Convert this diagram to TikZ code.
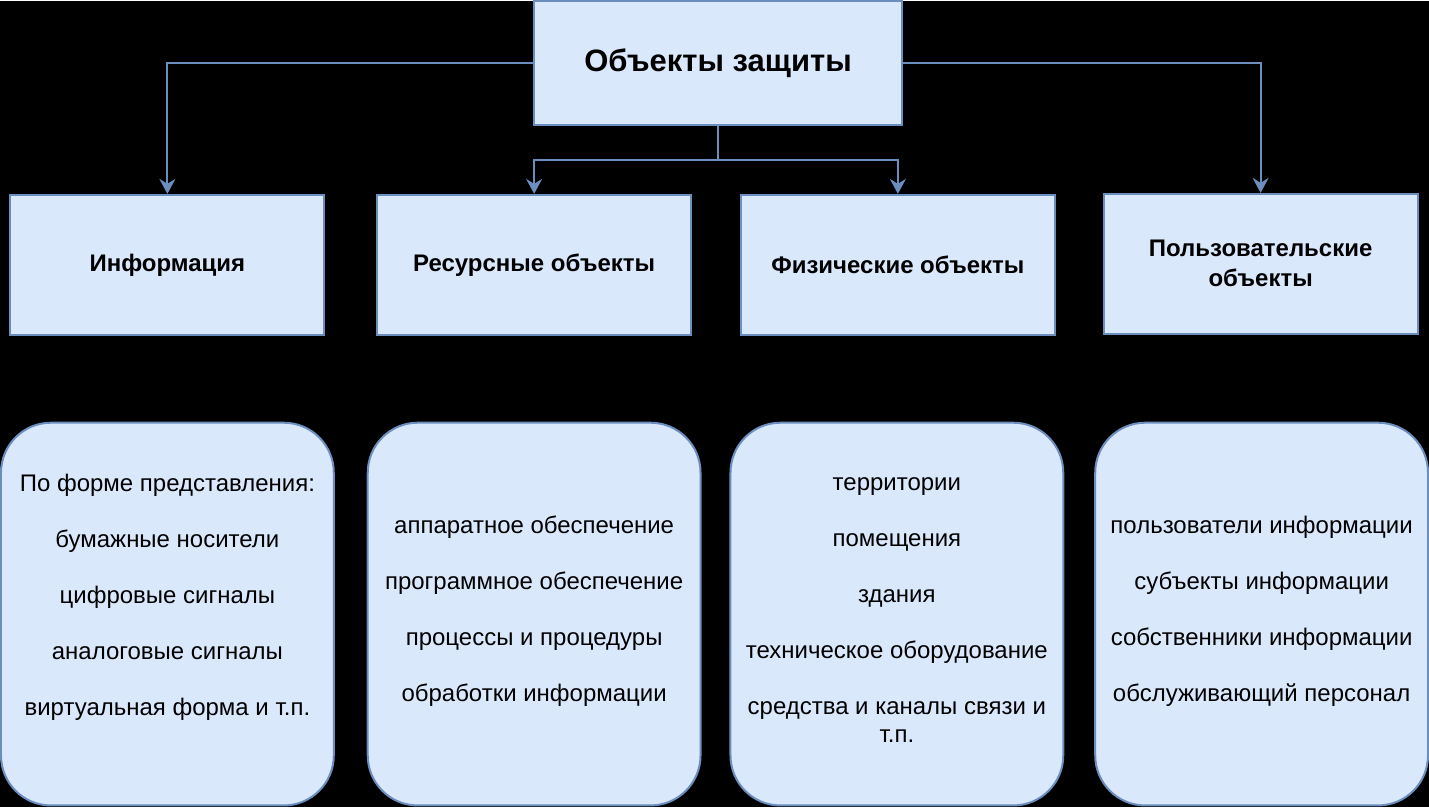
\documentclass[tikz,border=0pt]{standalone}
\usepackage{fontspec}
\setmainfont{Liberation Sans}
\usetikzlibrary{arrows.meta}

\definecolor{boxfill}{HTML}{DAE8FC}
\definecolor{boxline}{HTML}{6C8EBF}

\tikzset{
    head/.style={draw=boxline, fill=boxfill, line width=2pt,
        minimum width=368pt, minimum height=124pt, font=\bfseries\fontsize{31}{36}\selectfont},
    kind/.style={draw=boxline, fill=boxfill, line width=2pt, align=center,
        minimum width=314pt, minimum height=140pt, font=\bfseries\fontsize{24}{30}\selectfont},
    card/.style={draw=boxline, fill=boxfill, line width=2pt, rounded corners=50pt,
        minimum width=333pt, minimum height=383pt},
    cardtext/.style={align=center, font=\fontsize{24}{28}\selectfont},
    link/.style={draw=boxline, line width=2pt,
        -{Stealth[length=15pt, width=16pt, inset=5pt]}},
}

\begin{document}
\begin{tikzpicture}[x=1pt, y=-1pt]
        \fill[black] (0,0) rectangle (1429,807);

        \node[head] (root) at (718, 62) {Объекты защиты};

        \node[kind] (info) at (167, 264) {Информация};
        \node[kind] (res)  at (534, 264) {Ресурсные объекты};
        \node[kind] (phys) at (898, 264) {Физические объекты};
        \node[kind] (user) at (1261, 263) {Пользовательские\\объекты};

        \node[card] (cinfo) at (167, 613.5) {};
        \node[card] (cres)  at (534, 613.5) {};
        \node[card] (cphys) at (897, 613.5) {};
        \node[card] (cuser) at (1262, 613.5) {};

        \node[cardtext] (tinfo) at (167, 596.5) {По форме представления:\\[28pt]
            бумажные носители\\[28pt] цифровые сигналы\\[28pt]
            аналоговые сигналы\\[28pt] виртуальная форма и т.п.};
        \node[cardtext] (tres) at (534, 611) {аппаратное обеспечение\\[28pt]
            программное обеспечение\\[28pt] процессы и процедуры\\[28pt]
            обработки информации};
        \node[cardtext] (tphys) at (897, 609.5) {территории\\[28pt]
            помещения\\[28pt] здания\\[28pt] техническое оборудование\\[28pt]
            средства и каналы связи и\\ т.п.};
        \node[cardtext] (tuser) at (1262, 611) {пользователи информации\\[28pt]
            субъекты информации\\[28pt] собственники информации\\[28pt]
            обслуживающий персонал};

        \draw[link] (root.west) -| (info.north);
        \draw[link] (root.east) -| (user.north);
        \draw[link] (root.south) |- ++(0, 34) -| (res.north);
        \draw[link] (root.south) |- ++(0, 34) -| (phys.north);
    \end{tikzpicture}
\end{document}
